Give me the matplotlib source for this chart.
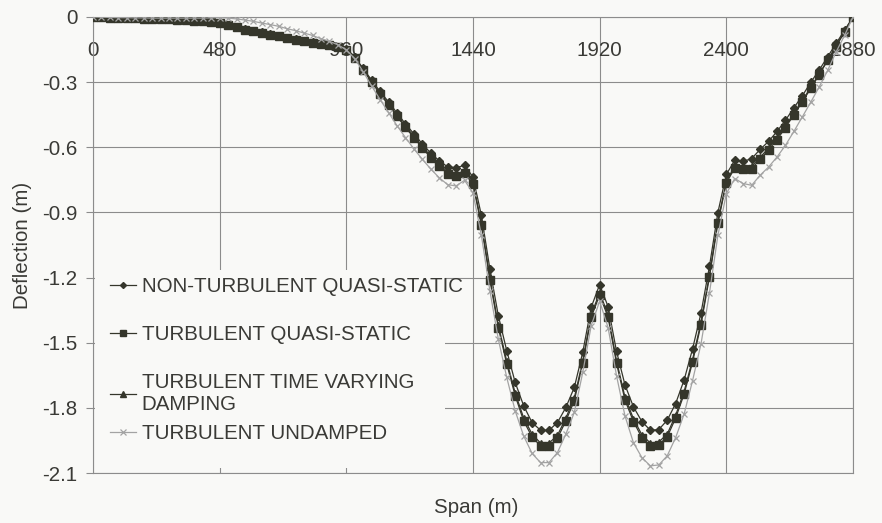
import matplotlib
matplotlib.use("Agg")
import matplotlib.pyplot as plt
import matplotlib.patches as patches

plt.rcParams['font.family'] = ['Liberation Sans', 'DejaVu Sans']

# stations along the span, every 32 m
span = list(range(0, 2881, 32))

non_turb_qs = [
    0.000, -0.001, -0.002, -0.003, -0.004, -0.005, -0.006, -0.007, -0.008, -0.009, -0.011, -0.013, -0.015, -0.018, -0.021, -0.025,
    -0.035, -0.045, -0.055, -0.063, -0.071, -0.079, -0.087, -0.095, -0.103, -0.110, -0.116, -0.123, -0.129, -0.138, -0.146,
    -0.183, -0.237, -0.291, -0.343, -0.391, -0.442, -0.492, -0.538, -0.584, -0.627, -0.662, -0.690, -0.694, -0.683, -0.737,
    -0.914, -1.160, -1.375, -1.537, -1.683, -1.790, -1.868, -1.903, -1.903, -1.868, -1.798, -1.706, -1.544, -1.337, -1.232,
    -1.334, -1.540, -1.694, -1.795, -1.863, -1.903, -1.900, -1.857, -1.780, -1.672, -1.529, -1.364, -1.149, -0.901, -0.725,
    -0.660, -0.665, -0.652, -0.610, -0.573, -0.527, -0.476, -0.418, -0.363, -0.301, -0.244, -0.183, -0.122, -0.061, 0.000,
]

turb_qs = [
    0.000, -0.002, -0.003, -0.004, -0.005, -0.006, -0.007, -0.008, -0.010, -0.011, -0.013, -0.015, -0.017, -0.020, -0.024, -0.028,
    -0.038, -0.048, -0.058, -0.066, -0.074, -0.081, -0.089, -0.097, -0.105, -0.112, -0.118, -0.125, -0.131, -0.140, -0.150,
    -0.190, -0.245, -0.300, -0.355, -0.405, -0.458, -0.508, -0.556, -0.603, -0.648, -0.688, -0.722, -0.733, -0.720, -0.770,
    -0.960, -1.210, -1.430, -1.598, -1.744, -1.860, -1.934, -1.975, -1.975, -1.940, -1.860, -1.767, -1.595, -1.383, -1.280,
    -1.383, -1.595, -1.764, -1.863, -1.937, -1.975, -1.970, -1.934, -1.847, -1.737, -1.590, -1.417, -1.198, -0.949, -0.765,
    -0.695, -0.700, -0.698, -0.655, -0.612, -0.565, -0.510, -0.450, -0.392, -0.328, -0.266, -0.200, -0.136, -0.068, 0.000,
]

turb_tvd = [
    0.000, -0.002, -0.003, -0.004, -0.005, -0.006, -0.007, -0.008, -0.009, -0.010, -0.012, -0.014, -0.016, -0.019, -0.023, -0.027,
    -0.036, -0.046, -0.056, -0.064, -0.072, -0.079, -0.087, -0.095, -0.103, -0.110, -0.116, -0.123, -0.129, -0.138, -0.148,
    -0.188, -0.242, -0.297, -0.351, -0.400, -0.452, -0.502, -0.549, -0.596, -0.640, -0.680, -0.713, -0.722, -0.710, -0.760,
    -0.950, -1.198, -1.418, -1.585, -1.732, -1.846, -1.921, -1.962, -1.962, -1.927, -1.847, -1.754, -1.583, -1.372, -1.268,
    -1.372, -1.583, -1.751, -1.850, -1.924, -1.962, -1.957, -1.921, -1.834, -1.725, -1.578, -1.406, -1.188, -0.940, -0.757,
    -0.686, -0.690, -0.688, -0.646, -0.604, -0.557, -0.503, -0.444, -0.386, -0.323, -0.262, -0.197, -0.134, -0.067, 0.000,
]

turb_undamped = [
    0.000, -0.001, -0.002, -0.003, -0.003, -0.004, -0.004, -0.005, -0.005, -0.005, -0.005, -0.005, -0.005, -0.005, -0.004, -0.003,
    -0.005, -0.009, -0.014, -0.020, -0.028, -0.035, -0.043, -0.054, -0.063, -0.074, -0.085, -0.100, -0.112, -0.128, -0.151,
    -0.192, -0.252, -0.318, -0.380, -0.440, -0.500, -0.555, -0.607, -0.655, -0.700, -0.740, -0.772, -0.778, -0.752, -0.810,
    -1.006, -1.260, -1.483, -1.660, -1.814, -1.929, -2.010, -2.052, -2.052, -2.006, -1.921, -1.821, -1.637, -1.421, -1.309,
    -1.430, -1.652, -1.837, -1.960, -2.029, -2.067, -2.063, -2.021, -1.937, -1.829, -1.675, -1.506, -1.272, -1.006, -0.814,
    -0.744, -0.767, -0.775, -0.729, -0.691, -0.645, -0.591, -0.527, -0.460, -0.392, -0.322, -0.246, -0.161, -0.085, 0.000,
]

labels = ["NON-TURBULENT QUASI-STATIC", "TURBULENT QUASI-STATIC",
          "TURBULENT TIME VARYING\nDAMPING", "TURBULENT UNDAMPED"]
x_ticks = [0, 480, 960, 1440, 1920, 2400, 2880]
y_ticks = [0, -0.3, -0.6, -0.9, -1.2, -1.5, -1.8, -2.1]

dark = "#35362b"
light = "#a3a3a3"
text_col = "#3a3a36"
grid_col = "#8c8c8c"
bg = "#f9f9f7"

fig = plt.figure(figsize=(8.82, 5.23), dpi=100, facecolor=bg)
ax = fig.add_axes([0.1054, 0.0956, 0.8617, 0.8719], facecolor=bg)

h1, = ax.plot(span, non_turb_qs, color=dark, lw=0.9, marker='D', ms=3.8, mfc=dark, mec=dark, zorder=3)
h2, = ax.plot(span, turb_qs, color=dark, lw=0.9, marker='s', ms=5.4, mfc=dark, mec=dark, zorder=3)
h3, = ax.plot(span, turb_tvd, color=dark, lw=0.9, marker='^', ms=5.0, mfc=dark, mec=dark, zorder=3)
h4, = ax.plot(span, turb_undamped, color=light, lw=0.9, marker='x', ms=5.0, mew=0.9, mec=light, zorder=3)

ax.set_xlim(0, 2880)
ax.set_ylim(-2.1, 0)
ax.set_xticks(x_ticks)
ax.set_yticks(y_ticks)
ax.set_yticklabels(["0" if v == 0 else f"{v:.1f}" for v in y_ticks])
ax.grid(True, color=grid_col, lw=0.8)
ax.set_axisbelow(True)
for s in ax.spines.values():
    s.set_color(grid_col)
    s.set_linewidth(0.8)

# x axis crosses at zero, so its labels sit just under the top edge
ax.tick_params(axis='x', bottom=False, labelbottom=False, top=True, labeltop=True,
               length=0, pad=-31, labelsize=14.8, labelcolor=text_col)
ax.tick_params(axis='y', direction='out', length=5, width=0.8, color=grid_col,
               pad=6, labelsize=14.8, labelcolor=text_col)

ax.set_ylabel("Deflection (m)", fontsize=14.8, color=text_col)
ax.yaxis.set_label_coords(-0.080, 0.5)
ax.set_xlabel("Span (m)", fontsize=14.8, color=text_col)
ax.xaxis.set_label_coords(0.504, -0.055)

# blank area behind the legend hides the grid there
ax.add_patch(patches.Rectangle((0.003, 0.011), 0.46, 0.434, transform=ax.transAxes,
                               facecolor=bg, edgecolor='none', zorder=1))

leg1 = ax.legend([h1, h2, h3], labels[:3], loc='upper left', bbox_to_anchor=(0.022, 0.429),
                 frameon=False, fontsize=14.8, borderpad=0, borderaxespad=0,
                 handlelength=1.3, handletextpad=0.25, labelspacing=1.4, labelcolor=text_col,
                 markerscale=0.8)
ax.add_artist(leg1)
leg2 = ax.legend([h4], labels[3:], loc='upper left', bbox_to_anchor=(0.022, 0.107),
                 frameon=False, fontsize=14.8, borderpad=0, borderaxespad=0,
                 handlelength=1.3, handletextpad=0.25, labelcolor=text_col, markerscale=0.8)

fig.savefig("out.png", dpi=100, facecolor=bg)
